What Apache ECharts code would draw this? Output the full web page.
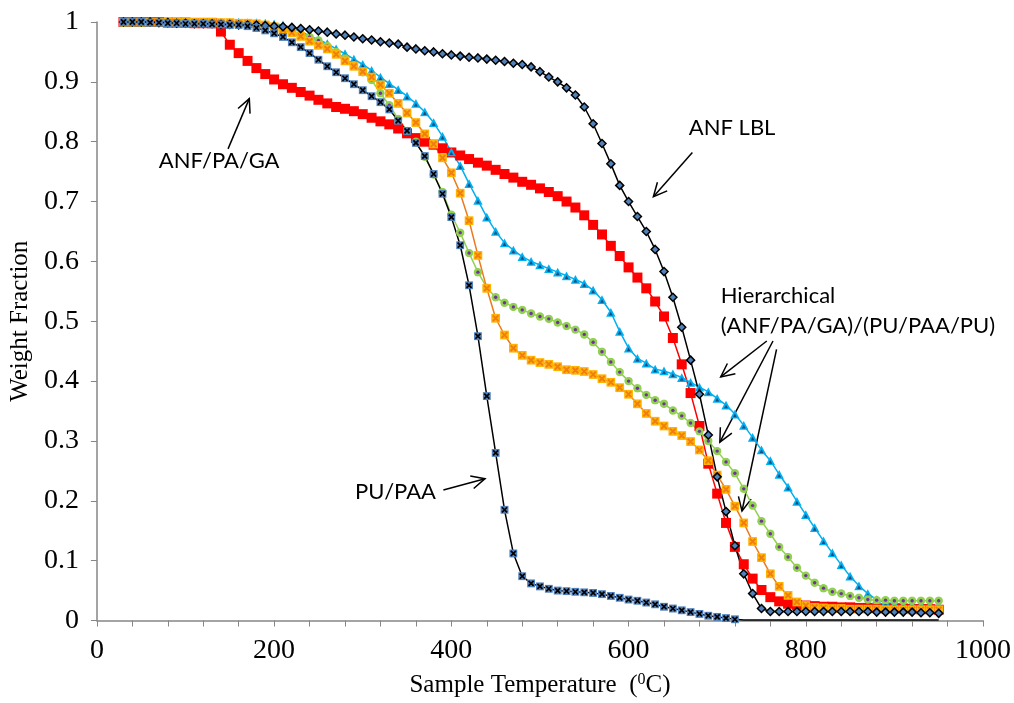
<!DOCTYPE html>
<html>
<head>
<meta charset="utf-8">
<script src="https://cdn.jsdelivr.net/npm/echarts@6/dist/echarts.min.js"></script>
<style>
  html, body { margin: 0; padding: 0; background: #fff; }
  #chart { width: 1014px; height: 703px; }
</style>
</head>
<body>
<div id="chart"></div>
<script>
// === Temperatures (°C) ===
const temps = [
  30, 40, 50, 60, 70, 80, 90, 100, 110, 120,
  130, 140, 150, 160, 170, 180, 190, 200, 210, 220,
  230, 240, 250, 260, 270, 280, 290, 300, 310, 320,
  330, 340, 350, 360, 370, 380, 390, 400, 410, 420,
  430, 440, 450, 460, 470, 480, 490, 500, 510, 520,
  530, 540, 550, 560, 570, 580, 590, 600, 610, 620,
  630, 640, 650, 660, 670, 680, 690, 700, 710, 720,
  730, 740, 750, 760, 770, 780, 790, 800, 810, 820,
  830, 840, 850, 860, 870, 880, 890, 900, 910, 920,
  930, 940, 950
];

// === Weight fractions ===
const anfLbl = [
  1.0, 1.0, 1.0, 1.0, 0.999, 0.999, 0.998, 0.998, 0.997, 0.997,
  0.997, 0.996, 0.996, 0.995, 0.995, 0.995, 0.994, 0.993, 0.992, 0.991,
  0.989, 0.987, 0.985, 0.983, 0.98, 0.978, 0.975, 0.972, 0.97, 0.967,
  0.965, 0.963, 0.958, 0.955, 0.952, 0.95, 0.947, 0.945, 0.943, 0.941,
  0.94, 0.938, 0.936, 0.934, 0.931, 0.929, 0.925, 0.917, 0.908, 0.9,
  0.89, 0.878, 0.858, 0.83, 0.797, 0.763, 0.727, 0.7, 0.675, 0.65,
  0.62, 0.583, 0.54, 0.49, 0.435, 0.378, 0.31, 0.24, 0.182, 0.125,
  0.078, 0.045, 0.02, 0.015, 0.015, 0.015, 0.015, 0.015, 0.015, 0.015,
  0.015, 0.015, 0.015, 0.015, 0.015, 0.014, 0.014, 0.014, 0.014, 0.014,
  0.013, 0.013, 0.012
];
const anfPaGa = [
  1.0, 1.0, 1.0, 1.0, 1.0, 0.999, 0.999, 0.999, 0.998, 0.998,
  0.998, 0.984, 0.962, 0.948, 0.935, 0.923, 0.913, 0.904, 0.896, 0.89,
  0.883, 0.877, 0.87, 0.864, 0.858, 0.855, 0.851, 0.846, 0.84, 0.834,
  0.829, 0.822, 0.814, 0.806, 0.8, 0.795, 0.789, 0.782, 0.777, 0.771,
  0.765, 0.76, 0.753, 0.746, 0.74, 0.733, 0.728, 0.722, 0.716, 0.709,
  0.7, 0.69, 0.677, 0.661, 0.645, 0.626, 0.609, 0.59, 0.573, 0.555,
  0.533, 0.508, 0.472, 0.428, 0.38, 0.325, 0.262, 0.212, 0.163, 0.123,
  0.094, 0.07, 0.051, 0.039, 0.032, 0.028, 0.026, 0.025, 0.024, 0.023,
  0.023, 0.022, 0.022, 0.021, 0.021, 0.021, 0.02, 0.02, 0.02, 0.019,
  0.019, 0.019, 0.018
];
const puPaa = [
  1.0, 1.0, 1.0, 0.999, 0.999, 0.998, 0.998, 0.997, 0.997, 0.997,
  0.996, 0.996, 0.995, 0.995, 0.993, 0.99, 0.986, 0.981, 0.975, 0.966,
  0.958, 0.948, 0.937, 0.926, 0.916, 0.906, 0.896, 0.886, 0.876, 0.866,
  0.854, 0.835, 0.818, 0.798, 0.776, 0.746, 0.713, 0.674, 0.627, 0.56,
  0.475, 0.375, 0.28, 0.185, 0.112, 0.074, 0.062, 0.057, 0.053, 0.05,
  0.049, 0.048, 0.047, 0.046, 0.044, 0.041, 0.038, 0.035, 0.033, 0.03,
  0.027, 0.023, 0.02, 0.017, 0.014, 0.011, 0.008, 0.006, 0.004, 0.002,
  0.001, 0.001, 0.001, 0.001, 0.001, 0.001, 0.001, 0.001, 0.001, 0.001,
  0.001, 0.001, 0.001, 0.001, 0.001, 0.001, 0.001, 0.001, 0.001, 0.001,
  0.001, 0.001, 0.001
];
const hierTri = [
  1.0, 1.0, 1.0, 1.0, 1.0, 1.0, 1.0, 1.0, 1.0, 1.0,
  1.0, 1.0, 1.0, 1.0, 0.999, 0.999, 0.998, 0.997, 0.995, 0.99,
  0.984, 0.977, 0.97, 0.964, 0.955, 0.947, 0.938, 0.929, 0.919, 0.908,
  0.897, 0.887, 0.876, 0.864, 0.85, 0.832, 0.809, 0.783, 0.76, 0.73,
  0.702, 0.674, 0.65, 0.631, 0.619, 0.608, 0.6, 0.594, 0.588, 0.582,
  0.576, 0.57, 0.563, 0.552, 0.536, 0.515, 0.483, 0.455, 0.438, 0.43,
  0.42, 0.417, 0.412, 0.406, 0.398, 0.39, 0.382, 0.371, 0.36, 0.345,
  0.326, 0.306, 0.285, 0.267, 0.244, 0.223, 0.199, 0.177, 0.155, 0.133,
  0.113, 0.093, 0.074, 0.058, 0.045, 0.035, 0.03, 0.028, 0.027, 0.026,
  0.026, 0.025, 0.025
];
const hierDot = [
  0.999, 0.999, 0.999, 0.999, 0.999, 0.999, 0.998, 0.998, 0.998, 0.998,
  0.997, 0.997, 0.997, 0.996, 0.996, 0.995, 0.994, 0.993, 0.99, 0.985,
  0.98, 0.975, 0.969, 0.96, 0.95, 0.939, 0.928, 0.916, 0.903, 0.881,
  0.861, 0.838, 0.818, 0.8, 0.775, 0.745, 0.716, 0.678, 0.648, 0.614,
  0.582, 0.556, 0.54, 0.531, 0.524, 0.519, 0.513, 0.508, 0.504, 0.498,
  0.492, 0.486, 0.478, 0.465, 0.449, 0.432, 0.415, 0.4, 0.388, 0.377,
  0.368, 0.362, 0.351, 0.342, 0.33, 0.316, 0.3, 0.283, 0.265, 0.246,
  0.22, 0.192, 0.166, 0.145, 0.123, 0.106, 0.088, 0.075, 0.063, 0.054,
  0.048, 0.045, 0.041, 0.038, 0.035, 0.034, 0.034, 0.033, 0.033, 0.033,
  0.033, 0.033, 0.033
];
const hierX = [
  1.0, 1.0, 1.0, 1.0, 1.0, 1.0, 1.0, 1.0, 1.0, 1.0,
  1.0, 0.999, 0.999, 0.998, 0.998, 0.997, 0.995, 0.992, 0.987, 0.982,
  0.976, 0.968, 0.961, 0.955, 0.946, 0.935, 0.926, 0.917, 0.908, 0.895,
  0.881, 0.864, 0.848, 0.832, 0.813, 0.796, 0.773, 0.748, 0.714, 0.668,
  0.61, 0.555, 0.505, 0.477, 0.455, 0.443, 0.435, 0.431, 0.428, 0.424,
  0.419, 0.418, 0.416, 0.411, 0.404, 0.398, 0.389, 0.378, 0.362, 0.346,
  0.333, 0.325, 0.316, 0.309, 0.299, 0.285, 0.267, 0.243, 0.219, 0.191,
  0.163, 0.132, 0.105, 0.078, 0.057, 0.042, 0.031, 0.025, 0.022, 0.021,
  0.02, 0.02, 0.019, 0.019, 0.019, 0.019, 0.018, 0.018, 0.018, 0.018,
  0.018, 0.018, 0.018
];

// PU/PAA markers stop here, the line carries on along zero
const puPaaLastMarker = 725;

// === Annotations (data coordinates) ===
const notes = [
  { lines: ['ANF/PA/GA'], at: [138, 0.768], align: 'center',
    arrows: [[[148, 0.788], [172, 0.872]]] },
  { lines: ['ANF LBL'], at: [668, 0.823], align: 'left',
    arrows: [[[672, 0.782], [628, 0.708]]] },
  { lines: ['Hierarchical', '(ANF/PA/GA)/(PU/PAA/PU)'], at: [704, 0.542], align: 'left',
    arrows: [[[756, 0.467], [704, 0.407]], [[763, 0.467], [703, 0.298]], [[767, 0.453], [728, 0.183]]] },
  { lines: ['PU/PAA'], at: [337, 0.215], align: 'center',
    arrows: [[[391, 0.218], [438, 0.237]]] }
];

// === Symboles composés ===
function svgSym(body) {
  const svg = "<svg xmlns='http://www.w3.org/2000/svg' width='16' height='16' viewBox='0 0 16 16'>" + body + "</svg>";
  return 'image://data:image/svg+xml;charset=utf-8,' + encodeURIComponent(svg);
}
const symPu = svgSym("<rect x='1' y='1' width='14' height='14' fill='#4F81BD'/><path d='M3.5 3.5L12.5 12.5M12.5 3.5L3.5 12.5' stroke='#000' stroke-width='3'/>");
const symTri = svgSym("<path d='M8 1L15.5 15H0.5Z' fill='#00B0F0'/><path d='M8 7L11 13H5Z' fill='#1F497D'/>");
const symDot = svgSym("<circle cx='8' cy='8' r='7.5' fill='#92D050'/><circle cx='8' cy='8' r='3' fill='#7030A0'/>");
const symX = svgSym("<rect x='1' y='1' width='14' height='14' fill='#FFB400'/><path d='M3.5 3.5L12.5 12.5M12.5 3.5L3.5 12.5' stroke='#F07C12' stroke-width='3'/>");

const pairs = vals => temps.map((t, i) => [t, vals[i]]);

const serif = '"Liberation Serif", "Times New Roman", serif';
const sans = 'Lato, "Open Sans", sans-serif';
const axisGrey = '#868686';

const chart = echarts.init(document.getElementById('chart'));

const option = {
  animation: false,
  backgroundColor: '#fff',
  grid: { left: 94, right: 28, top: 22, bottom: 81 },
  xAxis: {
    type: 'value', min: 0, max: 1000, interval: 200,
    name: '{a|Sample Temperature  (}{s|0}{a|C)}',
    nameLocation: 'middle', nameGap: 51,
    nameTextStyle: {
      rich: {
        a: { fontFamily: serif, fontSize: 25, color: '#000', lineHeight: 28 },
        s: { fontFamily: serif, fontSize: 16, color: '#000', verticalAlign: 'top', lineHeight: 28 }
      }
    },
    axisLine: { lineStyle: { color: axisGrey, width: 1.5 } },
    axisTick: { length: 6, lineStyle: { color: axisGrey } },
    minorTick: { show: true, splitNumber: 5, length: 6, lineStyle: { color: axisGrey } },
    axisLabel: { margin: 16, fontFamily: serif, fontSize: 28, color: '#000', formatter: v => String(v) },
    splitLine: { show: false }
  },
  yAxis: {
    type: 'value', min: 0, max: 1, interval: 0.1,
    name: 'Weight Fraction', nameLocation: 'middle', nameGap: 61, nameRotate: 90,
    nameTextStyle: { fontFamily: serif, fontSize: 25, color: '#000' },
    axisLine: { show: true, lineStyle: { color: axisGrey, width: 1.5 } },
    axisTick: { show: true, length: 6, lineStyle: { color: axisGrey } },
    axisLabel: { margin: 18, fontFamily: serif, fontSize: 28, color: '#000' },
    splitLine: { show: false }
  },
  series: [
    {
      name: 'ANF/PA/GA', type: 'line', data: pairs(anfPaGa), showAllSymbol: true,
      symbol: 'rect', symbolSize: 10,
      itemStyle: { color: '#FF0000' },
      lineStyle: { color: '#FF0000', width: 1.5 }
    },
    {
      name: 'Hierarchical A', type: 'line', data: pairs(hierTri), showAllSymbol: true,
      symbol: symTri, symbolSize: 10,
      itemStyle: { color: '#00B0F0' },
      lineStyle: { color: '#00B0F0', width: 1.5 }
    },
    {
      name: 'Hierarchical B', type: 'line', data: pairs(hierDot), showAllSymbol: true,
      symbol: symDot, symbolSize: 9,
      itemStyle: { color: '#92D050' },
      lineStyle: { color: '#92D050', width: 1.5 }
    },
    {
      name: 'Hierarchical C', type: 'line', data: pairs(hierX), showAllSymbol: true,
      symbol: symX, symbolSize: 10,
      itemStyle: { color: '#FFB400' },
      lineStyle: { color: '#EC7A1C', width: 1.5 }
    },
    {
      name: 'ANF LBL', type: 'line', data: pairs(anfLbl), showAllSymbol: true,
      symbol: 'diamond', symbolSize: 8,
      itemStyle: { color: '#4F81BD', borderColor: '#000', borderWidth: 1.5 },
      lineStyle: { color: '#000', width: 1.5 }
    },
    {
      name: 'PU/PAA', type: 'line', showAllSymbol: true,
      data: temps.map((t, i) => t > puPaaLastMarker ? { value: [t, puPaa[i]], symbol: 'none' } : [t, puPaa[i]]),
      symbol: symPu, symbolSize: 9,
      itemStyle: { color: '#4F81BD' },
      lineStyle: { color: '#000', width: 1.5 }
    }
  ]
};
chart.setOption(option);

// === Annotations : textes et flèches ===
function arrowGraphics(from, to) {
  const a = chart.convertToPixel({ gridIndex: 0 }, from);
  const b = chart.convertToPixel({ gridIndex: 0 }, to);
  const ang = Math.atan2(b[1] - a[1], b[0] - a[0]);
  const L = 15, th = Math.PI / 7;
  const h1 = [b[0] - L * Math.cos(ang - th), b[1] - L * Math.sin(ang - th)];
  const h2 = [b[0] - L * Math.cos(ang + th), b[1] - L * Math.sin(ang + th)];
  return [
    { type: 'line', shape: { x1: a[0], y1: a[1], x2: b[0], y2: b[1] }, style: { stroke: '#000', lineWidth: 1.5 } },
    { type: 'polyline', shape: { points: [h1, b, h2] }, style: { stroke: '#000', lineWidth: 1.5, fill: null } }
  ];
}

const graphics = [];
notes.forEach(n => {
  const p = chart.convertToPixel({ gridIndex: 0 }, n.at);
  n.lines.forEach((line, k) => {
    graphics.push({
      type: 'text',
      style: {
        text: line, x: p[0], y: p[1] + k * 30,
        fontFamily: sans, fontSize: 22, fill: '#000',
        align: n.align, verticalAlign: 'middle'
      }
    });
  });
  n.arrows.forEach(ar => graphics.push(...arrowGraphics(ar[0], ar[1])));
});
chart.setOption({ graphic: graphics });
</script>
</body>
</html>
